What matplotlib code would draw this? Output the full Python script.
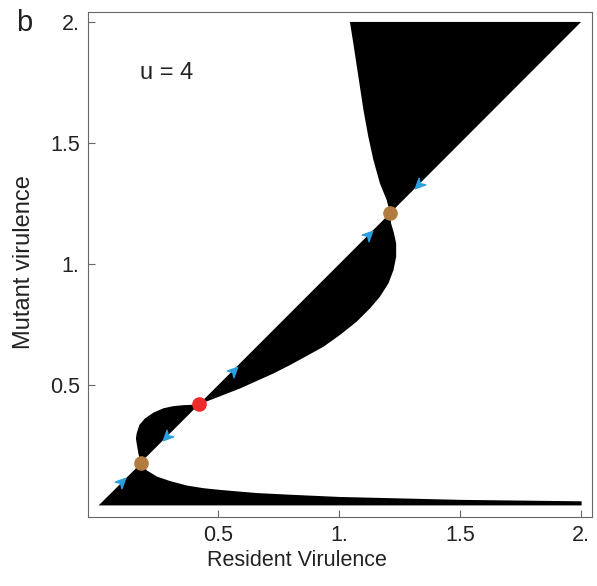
import numpy as np
import matplotlib
matplotlib.use("Agg")
import matplotlib.pyplot as plt
from matplotlib.path import Path

plt.rcParams['font.family'] = ['Liberation Sans', 'DejaVu Sans']

# boundaries of the invasion regions
# lower band: black between y=lo and this curve
band_x = [0.005, 0.18, 0.205, 0.246, 0.302, 0.370, 0.439, 0.508, 0.577, 0.66, 0.80,
          1.0, 1.25, 1.5, 1.75, 2.0]
band_y = [0.005, 0.179, 0.149, 0.124, 0.105, 0.087, 0.076, 0.069, 0.063, 0.056, 0.049,
          0.040, 0.034, 0.028, 0.025, 0.022]

# small lobe above diagonal between the two lower singular points
lobe1_x = [0.18, 0.421, 0.357, 0.315, 0.274, 0.233, 0.198, 0.175, 0.164, 0.161, 0.164,
           0.171, 0.18]
lobe1_y = [0.179, 0.420, 0.417, 0.413, 0.404, 0.386, 0.362, 0.335, 0.300, 0.280, 0.259,
           0.218, 0.179]

# big lobe below diagonal between red point and upper brown point
lobe2_x = [0.421, 1.211, 1.215, 1.227, 1.236, 1.236, 1.225, 1.204, 1.169, 1.128, 1.073,
           1.004, 0.935, 0.866, 0.798, 0.729, 0.660, 0.591, 0.522, 0.421]
lobe2_y = [0.420, 1.210, 1.168, 1.127, 1.085, 1.030, 0.975, 0.920, 0.865, 0.817, 0.762,
           0.707, 0.658, 0.620, 0.583, 0.548, 0.517, 0.486, 0.459, 0.420]

# top wedge above diagonal
top_x = [1.211, 2.0, 1.045, 1.059, 1.080, 1.101, 1.121, 1.142, 1.169, 1.197, 1.211]
top_y = [1.210, 2.0, 2.0, 1.912, 1.774, 1.636, 1.526, 1.430, 1.333, 1.264, 1.210]

# singular strategies
sing_brown = [0.18, 1.211]
sing_red = [0.421]

# direction arrows along the diagonal (+1 up, -1 down)
arrow_pos = [0.10, 0.29, 0.56, 1.12, 1.33]
arrow_dir = [1, -1, 1, 1, -1]

xticks = [0.5, 1.0, 1.5, 2.0]
xtick_labels = ['0.5', '1.', '1.5', '2.']
yticks = [0.5, 1.0, 1.5, 2.0]
ytick_labels = ['0.5', '1.', '1.5', '2.']

fig = plt.figure(figsize=(5.97, 5.86), dpi=100)
ax = fig.add_axes([0.1474, 0.1177, 0.8442, 0.8618])

ax.fill_between(band_x, 0.005, band_y, color='black', lw=0)
ax.fill(lobe1_x, lobe1_y, color='black', lw=0)
ax.fill(lobe2_x, lobe2_y, color='black', lw=0)
ax.fill(top_x, top_y, color='black', lw=0)


def head_marker(angle):
    # stealth-like arrowhead pointing along +x, then rotated
    v = np.array([[1.0, 0.0], [-0.7, 0.8], [-0.2, 0.0], [-0.7, -0.8], [1.0, 0.0]])
    c, s = np.cos(angle), np.sin(angle)
    v = v @ np.array([[c, s], [-s, c]])
    codes = [Path.MOVETO, Path.LINETO, Path.LINETO, Path.LINETO, Path.CLOSEPOLY]
    return Path(v, codes)


for p, d in zip(arrow_pos, arrow_dir):
    ang = np.pi / 4 if d > 0 else np.pi / 4 + np.pi
    ax.plot([p], [p], marker=head_marker(ang), ms=9, color='#2b9fe0',
            mec='#2b9fe0', lw=0)

ax.plot(sing_brown, sing_brown, 'o', ms=9.5, color='#b27b3f', mec='#b27b3f')
ax.plot(sing_red, sing_red, 'o', ms=9.5, color='#ee2a2a', mec='#ee2a2a')

ax.set_xlim(-0.037, 2.045)
ax.set_ylim(-0.045, 2.041)
ax.set_xticks(xticks)
ax.set_xticklabels(xtick_labels)
ax.set_yticks(yticks)
ax.set_yticklabels(ytick_labels)
ax.tick_params(direction='in', length=5, width=0.8, color='#666666',
               labelsize=15.5, labelcolor='#222222', pad=6)
for sp in ax.spines.values():
    sp.set_color('#666666')
    sp.set_linewidth(0.8)

fig.text(297 / 597, 1 - 561 / 586, 'Resident Virulence', ha='center', va='center',
         fontsize=15.5, color='#222222')
fig.text(24 / 597, 1 - 262 / 586, 'Mutant virulence', ha='center', va='center',
         rotation=90, fontsize=17, color='#222222')
fig.text(24 / 597, 1 - 23 / 586, 'b', ha='center', va='center', fontsize=21,
         color='#222222')
ax.text(0.178, 1.79, 'u = 4', ha='left', va='center', fontsize=17, color='#222222')

fig.savefig('out.png', dpi=100)
